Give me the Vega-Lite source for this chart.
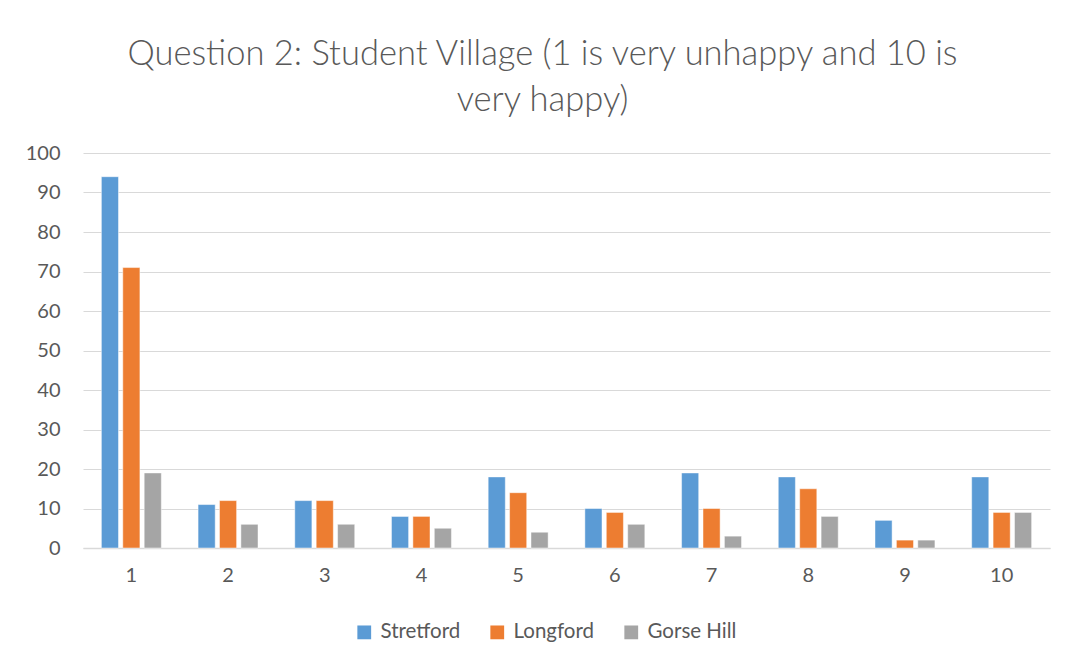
{
  "$schema": "https://vega.github.io/schema/vega-lite/v6.json",
  "width": 967,
  "height": 395,
  "autosize": {"type": "none"},
  "padding": {"left": 83, "top": 153, "right": 17, "bottom": 118},
  "background": "white",
  "title": {
    "text": ["Question 2: Student Village (1 is very unhappy and 10 is", "very happy)"],
    "font": "Lato",
    "fontSize": 34.5,
    "fontWeight": 300,
    "color": "#595959",
    "lineHeight": 46,
    "anchor": "middle",
    "dx": -24,
    "offset": 25
  },
  "data": {
    "values": [
      {"rating": "1", "site": "Stretford", "count": 94},
      {"rating": "1", "site": "Longford", "count": 71},
      {"rating": "1", "site": "Gorse Hill", "count": 19},
      {"rating": "2", "site": "Stretford", "count": 11},
      {"rating": "2", "site": "Longford", "count": 12},
      {"rating": "2", "site": "Gorse Hill", "count": 6},
      {"rating": "3", "site": "Stretford", "count": 12},
      {"rating": "3", "site": "Longford", "count": 12},
      {"rating": "3", "site": "Gorse Hill", "count": 6},
      {"rating": "4", "site": "Stretford", "count": 8},
      {"rating": "4", "site": "Longford", "count": 8},
      {"rating": "4", "site": "Gorse Hill", "count": 5},
      {"rating": "5", "site": "Stretford", "count": 18},
      {"rating": "5", "site": "Longford", "count": 14},
      {"rating": "5", "site": "Gorse Hill", "count": 4},
      {"rating": "6", "site": "Stretford", "count": 10},
      {"rating": "6", "site": "Longford", "count": 9},
      {"rating": "6", "site": "Gorse Hill", "count": 6},
      {"rating": "7", "site": "Stretford", "count": 19},
      {"rating": "7", "site": "Longford", "count": 10},
      {"rating": "7", "site": "Gorse Hill", "count": 3},
      {"rating": "8", "site": "Stretford", "count": 18},
      {"rating": "8", "site": "Longford", "count": 15},
      {"rating": "8", "site": "Gorse Hill", "count": 8},
      {"rating": "9", "site": "Stretford", "count": 7},
      {"rating": "9", "site": "Longford", "count": 2},
      {"rating": "9", "site": "Gorse Hill", "count": 2},
      {"rating": "10", "site": "Stretford", "count": 18},
      {"rating": "10", "site": "Longford", "count": 9},
      {"rating": "10", "site": "Gorse Hill", "count": 9}
    ]
  },
  "mark": {"type": "bar", "stroke": "white", "strokeWidth": 0.8, "strokeOpacity": 0.6},
  "encoding": {
    "x": {
      "field": "rating",
      "type": "nominal",
      "sort": ["1", "2", "3", "4", "5", "6", "7", "8", "9", "10"],
      "scale": {"paddingInner": 0.38, "paddingOuter": 0.19},
      "axis": {
        "title": null,
        "labelAngle": 0,
        "ticks": false,
        "domain": true,
        "domainColor": "#d9d9d9",
        "domainWidth": 1.5,
        "labelFont": "Lato",
        "labelFontSize": 20,
        "labelColor": "#595959",
        "labelPadding": 17
      }
    },
    "xOffset": {
      "field": "site",
      "type": "nominal",
      "sort": ["Stretford", "Longford", "Gorse Hill"],
      "scale": {"paddingInner": 0.2}
    },
    "y": {
      "field": "count",
      "type": "quantitative",
      "scale": {"domain": [0, 100]},
      "axis": {
        "title": null,
        "values": [0, 10, 20, 30, 40, 50, 60, 70, 80, 90, 100],
        "ticks": false,
        "domain": false,
        "grid": true,
        "gridColor": "#d9d9d9",
        "gridWidth": 1,
        "labelFont": "Lato",
        "labelFontSize": 20,
        "labelColor": "#595959",
        "labelPadding": 23
      }
    },
    "color": {
      "field": "site",
      "type": "nominal",
      "sort": ["Stretford", "Longford", "Gorse Hill"],
      "scale": {"domain": ["Stretford", "Longford", "Gorse Hill"], "range": ["#5B9BD5", "#ED7D31", "#A5A5A5"]},
      "legend": {
        "title": null,
        "orient": "none",
        "direction": "horizontal",
        "legendX": 271,
        "legendY": 469,
        "symbolType": "square",
        "symbolSize": 190,
        "symbolStrokeWidth": 0,
        "labelFont": "Lato",
        "labelFontSize": 20.5,
        "labelColor": "#595959",
        "columnPadding": 26,
        "labelOffset": 6
      }
    }
  },
  "config": {
    "view": {"stroke": null}
  }
}
